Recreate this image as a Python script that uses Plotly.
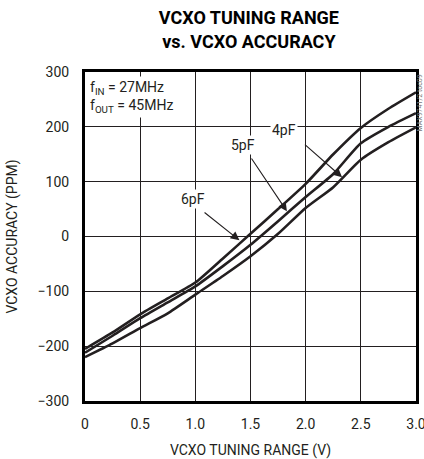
import plotly.graph_objects as go

volts = [0, 0.25, 0.5, 0.75, 1.0, 1.25, 1.5, 1.75, 2.0, 2.25, 2.5, 2.75, 3.0]
acc_6pf = [-205, -175, -142, -113, -84, -40, 5, 50, 96, 150, 198, 233, 263]
acc_5pf = [-212, -181, -149, -120, -91, -54, -15, 28, 72, 114, 170, 200, 225]
acc_4pf = [-220, -195, -167, -140, -106, -72, -36, 5, 52, 90, 140, 172, 199]
series_names = ["6pF", "5pF", "4pF"]

x_ticks = [0, 0.5, 1.0, 1.5, 2.0, 2.5, 3.0]
x_tick_text = ["0", "0.5", "1.0", "1.5", "2.0", "2.5", "3.0"]
y_ticks = [-300, -200, -100, 0, 100, 200, 300]

FONT = "Roboto, Liberation Sans, sans-serif"
INK = "#231f20"

fig = go.Figure()
for name, ys in zip(series_names, [acc_6pf, acc_5pf, acc_4pf]):
    fig.add_trace(go.Scatter(x=volts, y=ys, mode="lines", name=name,
                             line=dict(color=INK, width=2.6, shape="spline", smoothing=0.6),
                             showlegend=False))

annotations = []
labels = [("6pF", 0.98, 68), ("5pF", 1.43, 167), ("4pF", 1.8, 195)]
for t, lx, ly in labels:
    annotations.append(dict(x=lx, y=ly, xref="x", yref="y", text=t, showarrow=False,
                            bgcolor="white", font=dict(size=14, color=INK, family=FONT),
                            borderpad=1))
arrows = [(1.07, 46, 1.40, -7), (1.50, 145, 1.83, 46), (1.98, 170, 2.33, 108)]
for tx, ty, hx, hy in arrows:
    annotations.append(dict(x=hx, y=hy, ax=tx, ay=ty, xref="x", yref="y", axref="x", ayref="y",
                            text="", showarrow=True, arrowhead=2, arrowsize=1.6, arrowwidth=1.1,
                            arrowcolor=INK, standoff=0))
annotations.append(dict(x=0.02, y=292, xref="x", yref="y", xanchor="left", yanchor="top",
                        text="f<sub>IN</sub> = 27MHz<br>f<sub>OUT</sub> = 45MHz", showarrow=False,
                        align="left", bgcolor="white", borderpad=2,
                        font=dict(size=14, color=INK, family=FONT)))
annotations.append(dict(x=1.012, y=1.0, xref="paper", yref="paper", xanchor="center", yanchor="top",
                        text="MAX9741/2 toc09", textangle=-90, showarrow=False,
                        font=dict(size=7, color="#777777", family=FONT)))

fig.update_layout(
    width=424, height=459,
    margin=dict(l=85, r=8, t=72, b=58),
    paper_bgcolor="white", plot_bgcolor="white",
    title=dict(text="<b>VCXO TUNING RANGE<br>vs. VCXO ACCURACY</b>", x=0.587, xanchor="center",
               y=0.947, yanchor="top",
               font=dict(size=18, color="black", family=FONT)),
    annotations=annotations,
    font=dict(family=FONT, color=INK),
)
fig.update_xaxes(range=[0, 3], tickvals=x_ticks, ticktext=x_tick_text, showgrid=True,
                 gridcolor=INK, gridwidth=1, zeroline=False, automargin=False,
                 showline=True, linecolor="black", linewidth=3, mirror=True,
                 ticks="", ticklabelstandoff=8, ticklabeloverflow="allow",
                 tickfont=dict(size=14, family=FONT, color=INK),
                 title=dict(text="VCXO TUNING RANGE (V)", standoff=17,
                            font=dict(size=14, family=FONT, color=INK)))
fig.update_yaxes(range=[-300, 300], tickvals=y_ticks, showgrid=True,
                 gridcolor=INK, gridwidth=1, zeroline=False, automargin=False,
                 showline=True, linecolor="black", linewidth=3, mirror=True,
                 ticks="", ticklabelstandoff=10,
                 tickfont=dict(size=14, family=FONT, color=INK),
                 title=dict(text="VCXO ACCURACY (PPM)", standoff=17,
                            font=dict(size=14, family=FONT, color=INK)))

# remove the default 8px page margin so the figure fills the window exactly
fig.write_html("out.html", config={"displayModeBar": False},
               post_script="document.body.style.margin='0px';")
